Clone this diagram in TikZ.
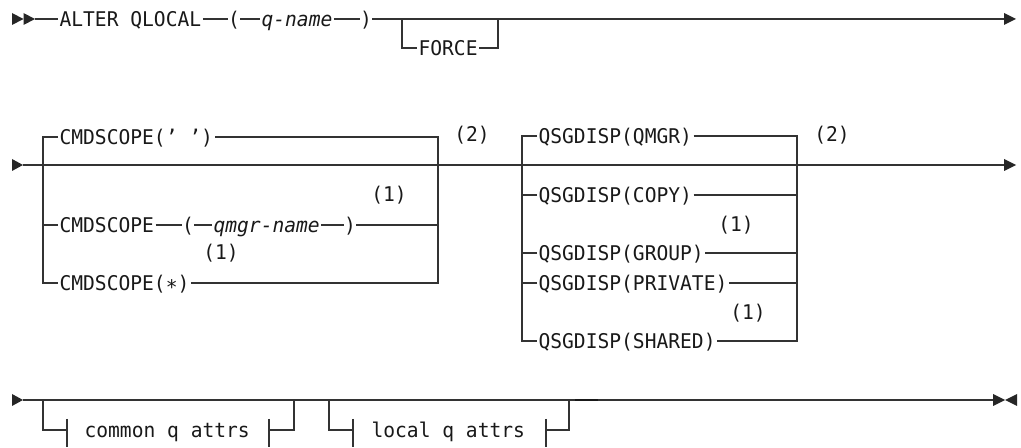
\documentclass[tikz,border=0pt]{standalone}
\usepackage{fontspec}
\newfontfamily\kwmono{DejaVu Sans Mono}[FakeStretch=0.967]
\newcommand\kwfont{\kwmono\fontsize{15.2pt}{17pt}\selectfont}
\newcommand\varfont{\kwmono\fontsize{15.2pt}{17pt}\selectfont\itshape}
\tikzset{
  ln/.style={line width=0.85pt, draw=black!80},
  thk/.style={line width=1.6pt, draw=black!90},
  kw/.style={font=\kwfont, text=black!90, inner xsep=1pt, inner ysep=0pt,
             text height=11.1pt, text depth=0pt, anchor=west},
  var/.style={kw, font=\varfont},
  par/.style={kw, anchor=center, inner xsep=0pt},
  note/.style={kw, anchor=center},
  tip/.style={fill=black!85}
}
\begin{document}
\begin{tikzpicture}[x=0.75pt, y=-0.75pt]
\useasboundingbox (0,0) rectangle (1021,448);
\fill[white] (0,0) rectangle (1021,448);

% ---------------- Row 1 ----------------
\fill[tip] (12,13) -- (23.5,19) -- (12,25) -- cycle;
\fill[tip] (23.5,13) -- (35,19) -- (23.5,25) -- cycle;
\coordinate (s1) at (35,19);
\node[kw] (alter) at (58,19) {ALTER QLOCAL};
\node[par] (lp1) at (234,19) {(};
\node[var] (qname) at (260,19) {q-name};
\node[par] (rp1) at (366,19) {)};
\coordinate (e1) at (1004,19);
\fill[tip] (1004,13) -- (1016,19) -- (1004,25) -- cycle;
\draw[ln] (s1) -- (alter);
\draw[ln] (alter) -- (lp1);
\draw[ln] (lp1) -- (qname);
\draw[ln] (qname) -- (rp1);
\draw[ln] (rp1) -- (e1);
\coordinate (f1) at (402,19);
\coordinate (f2) at (402,48);
\node[kw] (force) at (417,48) {FORCE};
\coordinate (f3) at (498,48);
\coordinate (f4) at (498,19);
\draw[ln] (f1) -- (f2) -- (force);
\draw[ln] (force) -- (f3) -- (f4);

% ---------------- Row 2 ----------------
\fill[tip] (12,159) -- (23,165) -- (12,171) -- cycle;
\coordinate (s2) at (23,165);
\coordinate (e2) at (1004,165);
\fill[tip] (1004,159) -- (1016,165) -- (1004,171) -- cycle;
\draw[ln] (s2) -- (e2);

% CMDSCOPE group
\coordinate (ca) at (43,137);
\coordinate (cb) at (43,283);
\coordinate (cR1) at (438,137);
\coordinate (cR2) at (438,283);
\node[kw] (c1) at (58,137) {CMDSCOPE(’ ’)};
\coordinate (c1e) at (215,137);
\node[kw] (c2) at (58,225) {CMDSCOPE};
\node[par] (lp2) at (188,225) {(};
\node[var] (qmgr) at (212,225) {qmgr-name};
\node[par] (rp2) at (350,225) {)};
\node[kw] (c3) at (58,283) {CMDSCOPE(∗)};
\draw[ln] (c1) -- (ca) -- (cb) -- (c3);
\draw[ln] (c1e) -- (cR1) -- (cR2) -- (c3);
\draw[ln] (c2) -- (c2 -| ca);
\draw[ln] (c2) -- (lp2);
\draw[ln] (lp2) -- (qmgr);
\draw[ln] (qmgr) -- (rp2);
\draw[ln] (rp2) -- (rp2 -| cR1);
\node[note] (n1) at (389,194) {(1)};
\node[note] (n2) at (221,252) {(1)};
\node[note] (n3) at (472,134) {(2)};

% QSGDISP group
\coordinate (qa) at (522,136);
\coordinate (qb) at (522,341);
\coordinate (qR1) at (797,136);
\coordinate (qR2) at (797,341);
\node[kw] (q1) at (537,136) {QSGDISP(QMGR)};
\node[kw] (q2) at (537,195) {QSGDISP(COPY)};
\node[kw] (q3) at (537,253) {QSGDISP(GROUP)};
\node[kw] (q4) at (537,283) {QSGDISP(PRIVATE)};
\node[kw] (q5) at (537,341) {QSGDISP(SHARED)};
\draw[ln] (q1) -- (qa) -- (qb) -- (q5);
\draw[ln] (q1) -- (qR1) -- (qR2) -- (q5);
\foreach \q in {q2,q3,q4}{
  \draw[ln] (\q) -- (\q -| qa);
  \draw[ln] (\q) -- (\q -| qR1);
}
\node[note] (n4) at (736,224) {(1)};
\node[note] (n5) at (748,312) {(1)};
\node[note] (n6) at (832,134) {(2)};

% ---------------- Row 3 ----------------
\fill[tip] (12,394) -- (23,400) -- (12,406) -- cycle;
\coordinate (s3) at (23,400);
\coordinate (e3) at (993,400);
\draw[ln] (s3) -- (e3);
\draw[thk] (575,400) -- (598,400);
\fill[tip] (993,394) -- (1005,400) -- (993,406) -- cycle;
\fill[tip] (1017,394) -- (1005,400) -- (1017,406) -- cycle;

% common q attrs
\coordinate (ba) at (43,400);
\coordinate (bb) at (43,430);
\coordinate (bt1) at (67,430);
\node[kw] (cq) at (83,430) {common q attrs};
\coordinate (bt2) at (269,430);
\coordinate (bc) at (294,430);
\coordinate (bd) at (294,400);
\draw[ln] (ba) -- (bb) -- (bt1);
\draw[ln] (67,419) -- (67,447);
\draw[ln] (269,419) -- (269,447);
\draw[ln] (bt2) -- (bc) -- (bd);

% local q attrs
\coordinate (la) at (329,400);
\coordinate (lb) at (329,430);
\coordinate (lt1) at (353,430);
\node[kw] (lq) at (370,430) {local q attrs};
\coordinate (lt2) at (546,430);
\coordinate (lc) at (569,430);
\coordinate (ld) at (569,400);
\draw[ln] (la) -- (lb) -- (lt1);
\draw[ln] (353,419) -- (353,447);
\draw[ln] (546,419) -- (546,447);
\draw[ln] (lt2) -- (lc) -- (ld);
\end{tikzpicture}
\end{document}
